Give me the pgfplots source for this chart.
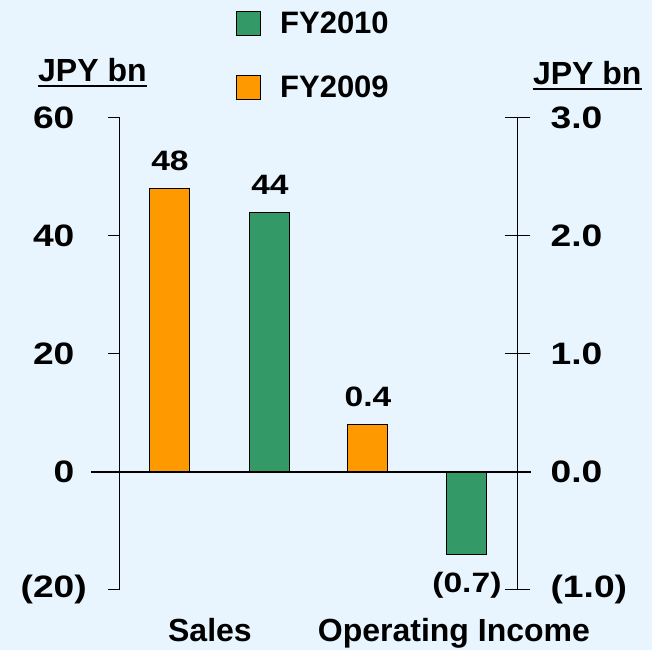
\documentclass[border=0pt]{standalone}
\usepackage{pgfplots}
\pgfplotsset{compat=1.18}
\usepackage{fontspec}
\setmainfont{Liberation Sans}
\newfontfamily\numfont[FakeStretch=1.2]{Liberation Sans}
\definecolor{bg}{HTML}{E8F5FE}
\definecolor{fygreen}{HTML}{339966}
\definecolor{fyorange}{HTML}{FF9900}
\newcommand{\f}{\fontsize{31}{34}\selectfont\bfseries}
\newcommand{\fb}{\fontsize{32}{35}\selectfont\bfseries}
\newcommand{\fn}{\numfont\fontsize{31}{34}\selectfont\bfseries}
\newcommand{\fs}{\numfont\fontsize{28}{30}\selectfont\bfseries}
\begin{document}
\begin{tikzpicture}[x=1pt,y=1pt]
\fill[bg] (0,0) rectangle (652,650);
\begin{axis}[
  at={(120pt,60pt)}, anchor=south west,
  scale only axis, width=398pt, height=472pt,
  xmin=120, xmax=518, ymin=-20, ymax=60,
  axis x line=none, axis y line*=left, clip=false,
  axis line style={line width=1pt},
  ytick={-20,0,20,40,60},
  yticklabels={(20),0\hphantom{)},20\hphantom{)},40\hphantom{)},60\hphantom{)}},
  tick align=outside, major tick length=12pt, tick style={line width=1pt, black},
  yticklabel style={font=\fn, anchor=east, inner sep=0pt, xshift=-21pt},
  legend style={at={(0.2915,1.2288)}, anchor=north west, draw=none, fill=none,
    font=\f, row sep=37pt, inner sep=0pt, column sep=0pt},
  legend cell align=left,
  legend image code/.code={\draw[#1, line width=1pt] (0pt,-12pt) rectangle (24pt,12pt);},
  nodes near coords style={font=\fs, anchor=south, inner sep=0pt, yshift=17pt},
]
\addplot[ybar, bar width=40pt, bar shift=0pt, fill=fyorange, draw=black, line width=1pt,
  nodes near coords, point meta=explicit symbolic, forget plot]
  coordinates {(170,48) [48]};
\addplot[ybar, bar width=40pt, bar shift=0pt, fill=fygreen, draw=black, line width=1pt,
  nodes near coords, point meta=explicit symbolic, forget plot]
  coordinates {(270,44) [44]};
\addlegendimage{fill=fygreen, draw=black}
\addlegendentry{\hspace{17pt}FY2010}
\addlegendimage{fill=fyorange, draw=black}
\addlegendentry{\hspace{17pt}FY2009}
\end{axis}
\begin{axis}[
  at={(120pt,60pt)}, anchor=south west,
  scale only axis, width=398pt, height=472pt,
  xmin=120, xmax=518, ymin=-1, ymax=3,
  axis x line=none, axis y line*=right, clip=false,
  axis line style={line width=1pt},
  ytick={-1,0,1,2,3},
  yticklabels={(1.0),0.0,1.0,2.0,3.0},
  tick align=center, major tick length=25pt, tick style={line width=1pt, black},
  yticklabel style={font=\fn, anchor=west, inner sep=0pt, xshift=20pt},
]
\addplot[ybar, bar width=40pt, bar shift=0pt, fill=fyorange, draw=black, line width=1pt,
  nodes near coords, point meta=explicit symbolic,
  nodes near coords style={font=\fs, anchor=south, inner sep=0pt, yshift=17pt}]
  coordinates {(368,0.4) [0.4]};
\addplot[ybar, bar width=40pt, bar shift=0pt, fill=fygreen, draw=black, line width=1pt,
  nodes near coords, point meta=explicit symbolic,
  nodes near coords style={font=\fs, anchor=north, inner sep=0pt, yshift=-17pt}]
  coordinates {(467,-0.7) [(0.7)]};
\draw[black, line width=2pt] (axis cs:91,0) -- (axis cs:531,0);
\node[font=\fb, anchor=base] at (axis cs:210,-1) [yshift=-52pt] {Sales};
\node[font=\fb, anchor=base] at (axis cs:454,-1) [yshift=-52pt] {Operating Income};
\end{axis}
\node[font=\fb, anchor=base west, inner sep=0pt] (jl) at (38,568) {JPY bn};
\draw[line width=2pt] ([yshift=-4pt]jl.base west) -- ([yshift=-4pt]jl.base east);
\node[font=\fb, anchor=base west, inner sep=0pt] (jr) at (533,565) {JPY bn};
\draw[line width=2pt] ([yshift=-4pt]jr.base west) -- ([yshift=-4pt]jr.base east);
\end{tikzpicture}
\end{document}
